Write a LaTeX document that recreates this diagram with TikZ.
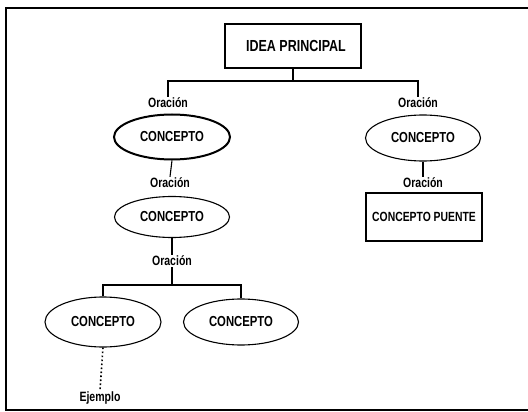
\documentclass[tikz,border=0pt]{standalone}
\usepackage{fontspec}
\setmainfont{Liberation Sans}[FakeStretch=0.78]
\usetikzlibrary{shapes.geometric}
\newcommand{\orac}{Oraci\'on}
\newcommand{\conc}{CONCEPTO}

\begin{document}
\begin{tikzpicture}[x=1pt,y=-1pt,
  concepto/.style={draw,ellipse,line width=1.1pt,inner sep=0pt,font=\bfseries\fontsize{14.5}{16}\selectfont},
  oracion/.style={inner sep=1pt,font=\bfseries\fontsize{13.5}{15}\selectfont},
  caja/.style={draw,rectangle,line width=1.3pt,inner sep=0pt,font=\bfseries\fontsize{14.5}{16}\selectfont}]
\useasboundingbox (0,0) rectangle (528,412);
\draw [line width=2pt] (6,8) rectangle (532,410);
\node [caja,minimum width=136pt,minimum height=44pt,font=\bfseries\fontsize{16}{18}\selectfont] (idea) at (293,46) {\hspace{6pt}IDEA PRINCIPAL};
\node [oracion] (or1) at (168,103) {\orac};
\node [oracion] (or2) at (418,103) {\orac};
\node [concepto,line width=2pt,minimum width=116pt,minimum height=45pt] (c1) at (172,137) {\conc};
\node [concepto,minimum width=115pt,minimum height=46pt] (c2) at (423,138) {\conc};
\node [oracion] (or3) at (170,183) {\orac};
\node [oracion] (or4) at (423,183) {\orac};
\node [concepto,minimum width=115pt,minimum height=41pt] (c3) at (172,217) {\conc};
\node [caja,minimum width=116pt,minimum height=48pt,font=\bfseries\fontsize{13.3}{15}\selectfont] (puente) at (424,217) {\conc{} PUENTE};
\node [oracion] (or5) at (172,261) {\orac};
\node [concepto,minimum width=116pt,minimum height=50pt] (c4) at (103,322) {\conc};
\node [concepto,minimum width=115pt,minimum height=46pt] (c5) at (241,322) {\conc};
\node [oracion] (ej) at (100,398) {Ejemplo};
\coordinate (j1) at (293,81);
\coordinate (j2) at (172,285);
\draw [line width=1.1pt] (idea.south) -- (j1);
\draw [line width=1.1pt] (or1.north) |- (j1) -| (or2.north);
\draw [line width=1.1pt] (c1.south) -- (or3.north);
\draw [line width=1.1pt] (c2.south) -- (or4.north);
\draw [line width=1.1pt] (c3.south) -- (or5.north);
\draw [line width=1.1pt] (or5.south) -- (j2);
\draw [line width=1.1pt] (c4.north) |- (j2) -| (c5.north);
\draw [line width=1.6pt,dash pattern=on 1.6pt off 2.4pt] (c4.south) -- (ej.north);
\end{tikzpicture}
\end{document}
